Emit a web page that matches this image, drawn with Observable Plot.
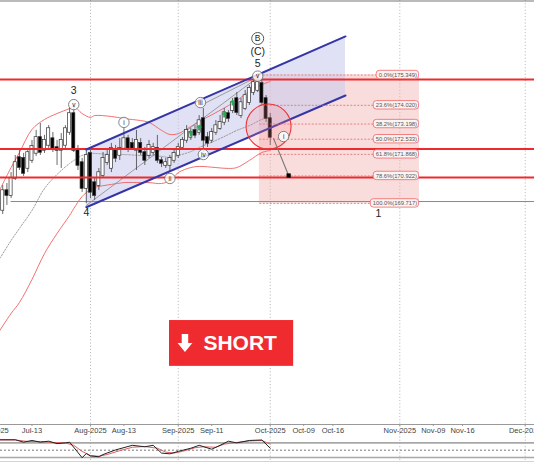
<!DOCTYPE html>
<html><head><meta charset="utf-8">
<script src="https://cdn.jsdelivr.net/npm/d3@7"></script>
<script src="https://cdn.jsdelivr.net/npm/@observablehq/plot@0.6"></script>
<style>
body{margin:0;background:#fff;font-family:"Liberation Sans",Arial,sans-serif;}
#wrap{width:534px;height:462px;position:relative;overflow:hidden;background:#fff}
#wrap svg{display:block;overflow:visible}
</style></head><body><div id="wrap"></div>
<script>
// ---- x axis: bar index (0 = 1 Aug 2025, trading days in past, calendar days in future)
const tickIdx    = [-23, -14, 0, 8, 21, 29, 43, 51, 58, 74, 82, 89, 104];
const tickLabels = ["Jul-2025","Jul-13","Aug-2025","Aug-13","Sep-2025","Sep-11","Oct-2025","Oct-09","Oct-16","Nov-2025","Nov-09","Nov-16","Dec-2025"];
const monthIdx   = [0, 21, 43, 74, 104];

// ---- candles
const candleIdx = [-21,-20,-19,-18,-17,-16,-15,-14,-13,-12,-11,-10,-9,-8,-7,-6,-5,-4,-3,-2,-1,0,1,2,3,4,5,6,7,8,9,10,11,12,13,14,15,16,17,18,19,20,21,22,23,24,25,26,27,28,29,30,31,32,33,34,35,36,37,38,39,40,41,42,43];
const open  = [169.41,170.28,170.06,170.81,171.73,171.69,171.25,171.60,171.91,172.61,172.04,172.26,172.56,172.17,172.04,172.26,172.83,173.66,172.04,171.51,170.37,171.91,170.63,170.50,170.94,171.51,171.25,172.04,171.82,172.13,172.56,172.35,172.04,172.35,171.95,171.82,171.95,172.13,171.60,171.38,171.38,171.60,171.82,172.17,172.48,172.61,172.92,172.83,173.44,172.61,172.48,172.83,173.00,173.27,173.66,173.79,174.32,173.57,173.88,174.14,174.58,174.67,174.98,174.32,173.44];
const high  = [170.50,170.59,171.07,171.82,172.04,171.91,172.13,172.48,172.92,173.22,172.70,173.13,172.83,172.48,172.78,173.13,173.88,174.01,172.26,171.69,172.04,172.13,170.81,171.25,171.95,172.13,172.35,172.26,172.56,173.00,172.70,172.56,172.92,172.56,172.17,172.48,172.35,172.70,171.73,171.69,171.82,172.04,172.35,172.61,173.13,173.00,173.13,173.57,173.88,172.83,173.00,173.35,173.57,173.88,173.79,174.32,174.58,174.32,174.67,174.89,175.11,175.35,175.11,174.45,173.66];
const low   = [169.23,169.63,169.93,170.72,171.16,170.90,171.07,171.47,171.78,171.82,171.91,172.13,171.95,171.38,171.25,172.04,172.70,171.95,171.16,170.20,169.71,169.93,169.85,170.28,170.81,171.38,171.07,171.51,171.60,172.04,171.95,172.04,171.16,171.82,171.38,171.69,171.82,171.47,171.29,171.25,171.07,171.47,171.69,172.04,172.35,172.48,172.56,172.70,171.95,172.17,172.35,172.70,172.92,173.13,173.27,173.66,173.57,173.44,173.79,174.01,174.45,174.58,174.01,173.27,172.26];
const close = [170.28,170.06,170.81,171.51,171.29,171.03,171.95,172.22,172.61,171.95,172.48,173.00,172.13,172.04,172.48,173.00,173.66,172.04,171.38,170.37,171.82,170.20,170.06,171.07,171.69,171.82,172.13,171.69,172.13,172.56,172.13,172.13,172.48,171.95,171.60,172.26,172.17,171.60,171.47,171.51,171.69,171.91,172.17,172.48,172.92,172.83,172.70,173.35,172.48,172.35,172.83,173.13,173.27,173.70,173.44,174.14,173.70,174.14,174.45,174.76,175.02,175.02,174.14,173.44,172.61];

// ---- Bollinger bands (read at sample bars)
const bandIdx   = [-22,-19,-17,-14,-11,-8,-5,-4,-2,0,1,5,8,12,14,17,19,21,24,26,30,33,35,38,41,43];
const bandUpper = [170.20,171.29,171.95,172.96,173.40,173.66,173.88,173.97,173.66,173.49,173.57,173.53,173.44,173.35,173.27,172.92,172.74,172.78,173.09,173.31,173.70,174.01,174.23,174.63,174.93,175.06];
const bandMid   = [167.21,168.09,168.62,169.41,170.37,170.99,171.47,171.60,171.82,171.91,171.91,171.86,171.86,171.82,171.82,171.78,171.73,171.82,171.99,172.17,172.48,172.74,172.92,173.13,173.40,173.49];
const bandLower = [164.06,164.89,165.37,166.38,167.52,168.40,169.19,169.49,170.02,170.33,170.42,170.55,170.63,170.63,170.63,170.59,170.72,171.07,171.29,171.34,171.29,171.25,171.29,171.60,171.95,172.04];

// ---- rising channel
const channelIdx   = [-1, 61];
const channelUpper = [172.08, 177.04];
const channelLower = [169.55, 174.45];

// ---- horizontal levels
const redLevels = [175.15, 172.10, 170.85];
const grayLevel = 169.80;
const grayLevelFrom = -19;

// ---- fibonacci retracement
const fibPct   = ["0.0%","23.6%","38.2%","50.0%","61.8%","78.6%","100.0%"];
const fibPrice = [175.349,174.020,173.198,172.533,171.868,170.922,169.717];
const fibFrom = 40.4, fibTo = 78.7;

// ---- trend lines (wave 4 low -> wave 5 high, wave iii -> wave v)
const trendLines = [
  {a: -1, pa: 169.63, b: 40, pb: 175.24},
  {a: 26.3, pa: 174.01, b: 40, pb: 175.28}
];

// ---- projection
const projIdx   = [43.8, 47.4];
const projPrice = [172.56, 170.94];
const focusIdx = 42.6, focusPrice = 173.09;

// ---- wave labels
const waveText  = ["3","4","5","(C)","1"];
const waveIdx   = [-4, -1, 40, 40, 68.9];
const wavePrice = [174.67, 169.30, 175.83, 176.38, 169.25];
const circText  = ["v","i","ii","iii","iv","v","i"];
const circIdx   = [-4, 8, 19, 26.3, 27, 40, 46.2];
const circPrice = [174.05, 173.27, 170.81, 174.14, 171.86, 175.30, 172.65];
const degreeText = "B", degreeIdx = 40, degreePrice = 176.95;

// ---- buy/sell markers
const arrowIdx   = [24, 26, 32, 34];
const arrowPrice = [172.78, 173.05, 173.62, 174.14];

// ---- short banner
const banner = {from: 18.9, to: 48.6, low: 162.57, high: 164.58, arrowAt: 22.6, textAt: 35.8, mid: 163.59, label: "SHORT"};

// ---- oscillator
const kIdx = [-22,-18,-16,-14,-12,-10,-8,-6,-5,-2,-1,0,2,3,6,10,13,15,17,19,21,24,26,29,31,33,35,38,41,43];
const kVal = [93,93,83,90,83,87,77,80,83,19,36,26,23,32,51,70,64,70,38,35,45,58,70,54,70,87,80,90,92,58];
const dIdx = [-22,-18,-15,-12,-9,-6,-4,-2,0,2,4,7,10,13,16,18,20,22,25,27,30,32,35,38,41,43];
const dVal = [92,92,86,86,82,80,70,45,28,25,32,48,62,65,58,42,38,45,60,64,62,75,82,88,90,75];
const oscLevels = [80, 20];

// ========================================================
const X = {domain: [-21.53, 106.22]};
const candles = candleIdx.map((d, i) => ({i: d, o: open[i], h: high[i], l: low[i], c: close[i]}));
const bands = bandIdx.map((d, i) => ({i: d, u: bandUpper[i], m: bandMid[i], l: bandLower[i]}));
const channel = channelIdx.map((d, i) => ({i: d, u: channelUpper[i], l: channelLower[i]}));
const fib = fibPct.map((p, i) => {
  const text = `${p}(${fibPrice[i].toFixed(3)})`;
  const wIdx = (text.length * 2.95 + 4) / 4.18;
  return {text, p: fibPrice[i], x1: fibTo - 0.1 - wIdx, x2: fibTo - 0.1};
});
const waves = waveText.map((t, i) => ({t, i: waveIdx[i], p: wavePrice[i]}));
const circs = circText.map((t, i) => ({t, i: circIdx[i], p: circPrice[i]}));
const degree = [{t: degreeText, i: degreeIdx, p: degreePrice}];
const proj = projIdx.map((d, i) => ({i: d, p: projPrice[i]}));
const arrows = arrowIdx.map((d, i) => ({i: d, p: arrowPrice[i]}));

const arrowDown = {draw(ctx, size) {
  const r = Math.sqrt(size / Math.PI);
  const w = r * 0.36, hw = r * 0.82, hy = r * 0.0;
  ctx.moveTo(-w, -r); ctx.lineTo(w, -r); ctx.lineTo(w, hy); ctx.lineTo(hw, hy);
  ctx.lineTo(0, r); ctx.lineTo(-hw, hy); ctx.lineTo(-w, hy); ctx.closePath();
}};
const upArrow = {draw(ctx, size) {
  const r = Math.sqrt(size / Math.PI);
  ctx.moveTo(0, -r); ctx.lineTo(r, 0); ctx.lineTo(r*0.35, 0); ctx.lineTo(r*0.35, r);
  ctx.lineTo(-r*0.35, r); ctx.lineTo(-r*0.35, 0); ctx.lineTo(-r, 0); ctx.closePath();
}};

const main = Plot.plot({
  width: 534, height: 434, marginTop: 0, marginBottom: 10, marginLeft: 0, marginRight: 0,
  x: X, y: {domain: [160.02, 178.617], axis: null},
  style: {fontFamily: "Liberation Sans, Arial, sans-serif", background: "#fff"},
  marks: [
    Plot.ruleX(monthIdx, {stroke: "#bdbdbd", strokeDasharray: "1.2,2", strokeWidth: 1, insetBottom: -10}),
    Plot.rect([0], {x1: fibFrom, x2: fibTo, y1: d3.min(fibPrice), y2: d3.max(fibPrice), fill: "#f2b4b4", fillOpacity: 0.45}),
    Plot.areaY(channel, {x: "i", y1: "l", y2: "u", fill: "#c9c9ec", fillOpacity: 0.55}),
    Plot.ruleY([grayLevel], {x1: grayLevelFrom, x2: 110, stroke: "#8a8a8a", strokeWidth: 1}),
    Plot.line(bands, {x: "i", y: "u", stroke: "#f06060", strokeWidth: 0.9, curve: "catmull-rom"}),
    Plot.line(bands, {x: "i", y: "l", stroke: "#f06060", strokeWidth: 0.9, curve: "catmull-rom"}),
    Plot.line(bands, {x: "i", y: "m", stroke: "#888", strokeWidth: 0.8, strokeDasharray: "1.5,1.5", curve: "catmull-rom"}),
    ...trendLines.map(t => Plot.line([{i: t.a, p: t.pa}, {i: t.b, p: t.pb}], {x: "i", y: "p", stroke: "#888", strokeWidth: 0.8})),
    Plot.ruleX(candles, {x: "i", y1: "l", y2: "h", stroke: "#444", strokeWidth: 0.8}),
    Plot.rect(candles, {x1: d => d.i - 0.37, x2: d => d.i + 0.37, y1: "o", y2: "c", insetTop: -0.3, insetBottom: -0.3,
      fill: d => d.c >= d.o ? "#fff" : "#000", stroke: "#333", strokeWidth: 0.7}),
    Plot.dot(arrows, {x: "i", y: "p", symbol: upArrow, r: 3, fill: "#2fa84f", stroke: "none"}),
    Plot.ruleY(redLevels, {stroke: "#ee2a2f", strokeWidth: 2}),
    Plot.line(channel, {x: "i", y: "u", stroke: "#3535a8", strokeWidth: 2}),
    Plot.line(channel, {x: "i", y: "l", stroke: "#3535a8", strokeWidth: 2}),
    Plot.ruleY(fib, {y: "p", x1: fibFrom + 0.1, x2: "x1", stroke: "#e06a6a", strokeWidth: 0.8, strokeDasharray: "2,1.5"}),
    Plot.rect(fib, {x1: "x1", x2: "x2", y1: "p", y2: "p", insetTop: -4.2, insetBottom: -4.2, rx: 3, fill: "#fdf2f2", stroke: "#e66", strokeWidth: 0.8}),
    Plot.text(fib, {x: d => (d.x1 + d.x2) / 2, y: "p", text: "text", fontSize: 5.8, fill: "#555"}),
    Plot.dot([0], {x: focusIdx, y: focusPrice, r: 22.5, fill: "#ff8a8a", fillOpacity: 0.22, stroke: "#ee3333", strokeWidth: 1.1}),
    Plot.line(proj, {x: "i", y: "p", stroke: "#777", strokeWidth: 1.1}),
    Plot.dot(proj.slice(-1), {x: "i", y: "p", symbol: "square", r: 2.4, fill: "#000"}),
    Plot.dot(circs, {x: "i", y: "p", r: 5.2, fill: "#fff", fillOpacity: 0.8, stroke: "#666", strokeWidth: 0.8}),
    Plot.text(circs, {x: "i", y: "p", text: "t", fontSize: 6.5, fill: "#222"}),
    Plot.text(waves, {x: "i", y: "p", text: "t", fontSize: 10.5, fill: "#222", fontWeight: 500}),
    Plot.dot(degree, {x: "i", y: "p", r: 6, fill: "#fff", stroke: "#444", strokeWidth: 0.9}),
    Plot.text(degree, {x: "i", y: "p", text: "t", fontSize: 8.5, fill: "#222"}),
    Plot.rect([banner], {x1: "from", x2: "to", y1: "low", y2: "high", fill: "#ef2b30"}),
    Plot.dot([banner], {x: "arrowAt", y: "mid", symbol: arrowDown, r: 9, fill: "#fff"}),
    Plot.text([banner], {x: "textAt", y: "mid", text: "label", fontSize: 21, fontWeight: "bold", fill: "#fff", dy: 0.5}),
    Plot.ruleY([178.595], {stroke: "#777", strokeWidth: 1.2}),
    Plot.ruleY([160.02], {stroke: "#999", strokeWidth: 1}),
    Plot.axisX({ticks: tickIdx, tickFormat: d => tickLabels[tickIdx.indexOf(d)], tickSize: 2, tickPadding: 1, fontSize: 7.5, color: "#444", stroke: "#999", label: null})
  ]
});

const osc = Plot.plot({
  width: 534, height: 29, marginTop: 0, marginBottom: 0, marginLeft: 0, marginRight: 0,
  x: {...X, axis: null}, y: {domain: [0, 100], range: [27.8, 3.55], axis: null},
  style: {background: "#fff"},
  marks: [
    Plot.ruleX(monthIdx, {stroke: "#bdbdbd", strokeDasharray: "1.2,2", insetTop: -4}),
    Plot.ruleY(oscLevels, {stroke: "#a8a8a8", strokeWidth: 1.6}),
    Plot.ruleY([50], {stroke: "#555", strokeDasharray: "2,2", strokeWidth: 0.8}),
    Plot.ruleY([0], {stroke: "#555", strokeWidth: 1.2}),
    Plot.line(dIdx.map((d, i) => ({i: d, v: dVal[i]})), {x: "i", y: "v", stroke: "#e46060", strokeWidth: 1}),
    Plot.line(kIdx.map((d, i) => ({i: d, v: kVal[i]})), {x: "i", y: "v", stroke: "#222", strokeWidth: 1})
  ]
});

const wrap = document.getElementById("wrap");
wrap.appendChild(main);
wrap.appendChild(osc);
</script></body></html>
